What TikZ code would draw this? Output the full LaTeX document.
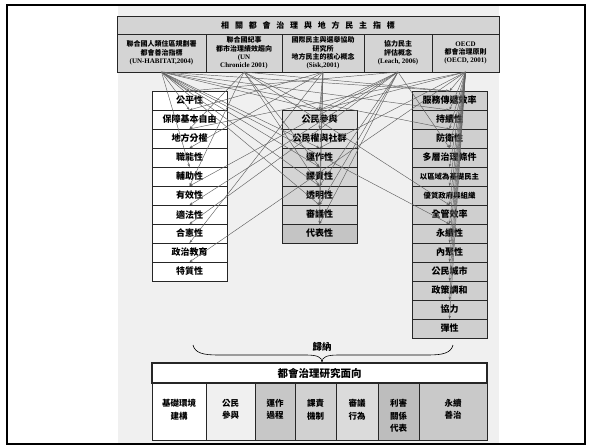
\documentclass[tikz,border=0pt]{standalone}
\usepackage{fontspec}
\setmainfont{Liberation Serif}
\newfontfamily\cjk{Noto Sans CJK TC}
\usetikzlibrary{arrows.meta}
\newcommand\tsp{\hspace{5.8pt}}
\begin{document}
\begin{tikzpicture}[x=1pt,y=-1pt,
  box/.style={draw=black!85, line width=0.6pt, inner sep=0pt, outer sep=0pt, align=center},
  item/.style={box, minimum width=75pt, minimum height=19pt, font=\cjk\bfseries\fontsize{9}{10}\selectfont},
  small/.style={font=\cjk\bfseries\fontsize{7.4}{8}\selectfont},
  lbox/.style={item, fill=white},
  mbox/.style={item, fill=black!13},
  mboxb/.style={item, fill=black!17},
  mboxc/.style={item, fill=black!23},
  rbox/.style={item, fill=black!19},
  src/.style={box, fill=black!17, minimum height=38pt, font=\bfseries\fontsize{7}{8.3}\selectfont},
  bcell/.style={box, minimum height=57pt},
  btext/.style={inner sep=0pt, anchor=north, align=center, font=\cjk\bfseries\fontsize{8.5}{12.5}\selectfont},
  conn/.style={draw=black!62, line width=0.45pt, -{Stealth[length=3.2pt,width=2.4pt]}}
]
\useasboundingbox (0,0) rectangle (592,445);
\fill[black!6] (118,6) rectangle (499,444);
\draw[line width=1.8pt] (7,5) rectangle (585,444);

% title and sources
\node[box, fill=black!17, minimum width=382pt, minimum height=18pt, font=\cjk\bfseries\fontsize{8}{9}\selectfont] (title) at (308,25)
  {相\tsp 關\tsp 都\tsp 會\tsp 治\tsp 理\tsp 與\tsp 地\tsp 方\tsp 民\tsp 主\tsp 指\tsp 標};
\node[src, minimum width=89pt] (s1) at (161.5,53) {{\cjk 聯合國人類住區規劃署}\\{\cjk 都會善治指標}\\(UN-HABITAT,2004)};
\node[src, minimum width=76pt] (s2) at (244,53) {{\cjk 聯合國紀事}\\{\cjk 都市治理績效趨向}\\(UN\\Chronicle 2001)};
\node[src, minimum width=82pt] (s3) at (323,53) {{\cjk 國際民主與選舉協助}\\{\cjk 研究所}\\{\cjk 地方民主的核心概念}\\(Sisk,2001)};
\node[src, minimum width=68pt] (s4) at (398,53) {{\cjk 協力民主}\\{\cjk 評估概念}\\(Leach, 2006)};
\node[src, minimum width=67pt] (s5) at (465.5,53) {OECD\\{\cjk 都會治理原則}\\(OECD, 2001)};

% left column
\node[lbox] (l1) at (189.5,100.5) {公平性};
\node[lbox] (l2) at (189.5,119.5) {保障基本自由};
\node[lbox] (l3) at (189.5,138.5) {地方分權};
\node[lbox] (l4) at (189.5,157.5) {職能性};
\node[lbox] (l5) at (189.5,176.5) {輔助性};
\node[lbox] (l6) at (189.5,195.5) {有效性};
\node[lbox] (l7) at (189.5,214.5) {適法性};
\node[lbox] (l8) at (189.5,233.5) {合憲性};
\node[lbox] (l9) at (189.5,252.5) {政治教育};
\node[lbox] (l10) at (189.5,271.5) {特質性};

% middle column
\node[mbox] (m1) at (319.5,119.5) {公民參與};
\node[mbox] (m2) at (319.5,138.5) {公民權與社群};
\node[mboxb] (m3) at (319.5,157.5) {運作性};
\node[mboxb] (m4) at (319.5,176.5) {課責性};
\node[mboxb] (m5) at (319.5,195.5) {透明性};
\node[mboxb] (m6) at (319.5,214.5) {審議性};
\node[mboxc] (m7) at (319.5,233.5) {代表性};

% right column
\node[rbox] (r1) at (449.5,100.5) {服務傳遞效率};
\node[rbox] (r2) at (449.5,119.5) {持續性};
\node[rbox] (r3) at (449.5,138.5) {防衛性};
\node[rbox] (r4) at (449.5,157.5) {多層治理條件};
\node[rbox, small] (r5) at (449.5,176.5) {以區域為基礎民主};
\node[rbox, small] (r6) at (449.5,195.5) {優質政府與組織};
\node[rbox] (r7) at (449.5,214.5) {全管效率};
\node[rbox] (r8) at (449.5,233.5) {永續性};
\node[rbox] (r9) at (449.5,252.5) {內聚性};
\node[rbox] (r10) at (449.5,271.5) {公民城市};
\node[rbox] (r11) at (449.5,290.5) {政策調和};
\node[rbox] (r12) at (449.5,309.5) {協力};
\node[rbox] (r13) at (449.5,328.5) {彈性};

% connectors
\foreach \t in {l1,l2,l5,m1,m3,m4,m5,m6,r1,r2,r3,r8}
  \draw[conn] (s1.south) -- (\t.north);
\foreach \t in {l3,l6,m1,m4,m5,r1,r7}
  \draw[conn] (s2.south) -- (\t.north);
\foreach \t in {l2,l4,l9,m1,m2,m6,m7}
  \draw[conn] (s3.south) -- (\t.north);
\foreach \t in {l1,l6,l7,l8,m1,m5,m6,m7,r4}
  \draw[conn] (s4.south) -- (\t.north);
\foreach \t in {l3,l10,m1,m3,r1,r2,r3,r4,r5,r6,r7,r8,r9,r10,r11,r12,r13}
  \draw[conn] (s5.south) -- (\t.north);

% brace and label
\draw[line width=0.6pt] (193,345) .. controls (195,353) and (203,355) .. (218,355) -- (306,355) .. controls (317,355) and (322,357) .. (322,362);
\draw[line width=0.6pt] (453,345) .. controls (451,353) and (443,355) .. (428,355) -- (338,355) .. controls (327,355) and (322,357) .. (322,362);
\node[font=\cjk\bfseries\fontsize{9.5}{10}\selectfont, inner sep=1pt] (gn) at (322,347) {歸納};

% bottom table
\node[box, fill=white, line width=1.1pt, minimum width=335pt, minimum height=20pt, font=\cjk\bfseries\fontsize{10.5}{12}\selectfont] (hd) at (319.5,373) {都會治理研究面向};
\node[bcell, fill=white, minimum width=54pt] (b1) at (179,411.5) {};
\node[bcell, fill=black!6, minimum width=49pt] (b2) at (230.5,411.5) {};
\node[bcell, fill=black!22, minimum width=40pt] (b3) at (275,411.5) {};
\node[bcell, fill=black!18, minimum width=41pt] (b4) at (315.5,411.5) {};
\node[bcell, fill=black!14, minimum width=42pt] (b5) at (357,411.5) {};
\node[bcell, fill=black!26, minimum width=41pt] (b6) at (398.5,411.5) {};
\node[bcell, fill=black!21, minimum width=68pt] (b7) at (453,411.5) {};
\node[btext] (t1) at (179,399) {基礎環境\\建構};
\node[btext] (t2) at (230.5,399) {公民\\參與};
\node[btext] (t3) at (275,399) {運作\\過程};
\node[btext] (t4) at (315.5,399) {課責\\機制};
\node[btext] (t5) at (357,399) {審議\\行為};
\node[btext] (t6) at (398.5,399) {利害\\關係\\代表};
\node[btext] (t7) at (453,399) {永續\\善治};
\end{tikzpicture}
\end{document}
